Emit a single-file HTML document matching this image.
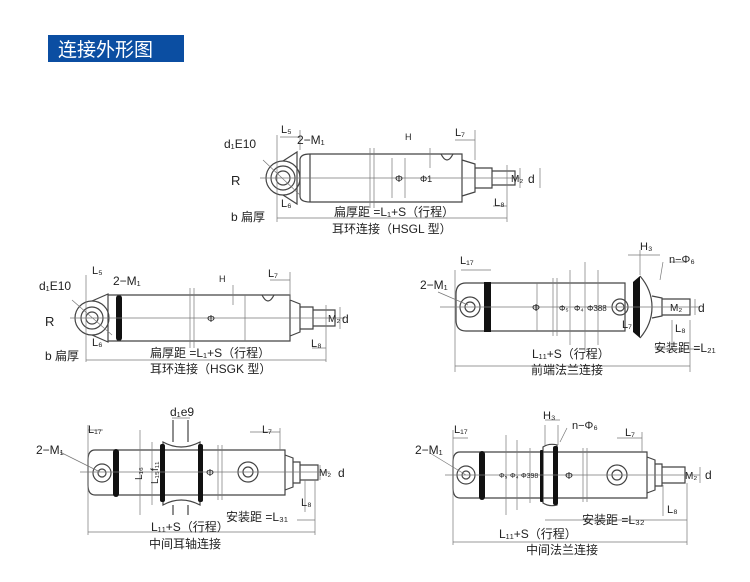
<!DOCTYPE html>
<html><head><meta charset="utf-8"><style>
html,body{margin:0;padding:0;background:#fff;width:750px;height:582px;overflow:hidden}
svg{display:block}
text{font-family:"Liberation Sans","Noto Sans CJK SC",sans-serif;fill:#222}
.l{stroke:#444;stroke-width:1.2;fill:none}
.t{stroke:#777;stroke-width:.7;fill:none}
.b{fill:#111}
</style></head><body>
<svg width="750" height="582" viewBox="0 0 750 582">
<rect x="48" y="35" width="136" height="27" fill="#0b4ea2"/>
<text x="58" y="56" font-size="19" style="fill:#fff">连接外形图</text>

<!-- Diagram 1 HSGL -->
<g>
<circle class="l" cx="283" cy="178" r="17"/><circle class="l" cx="283" cy="178" r="12"/><circle class="l" cx="283" cy="178" r="7"/>
<path class="l" d="M283 161 L297 152 L297 204 L283 195"/>
<path class="l" d="M310 154 Q300 154 300 160 L300 196 Q300 202 310 202"/>
<path class="l" d="M310 154 L462 154 L462 202 L310 202 M310 154 L310 202"/>
<path class="l" d="M462 160 L475 164 L475 192 L462 196 M475 168 L492 168 L492 188 L475 188 M492 171 L515 171 L515 185 L492 185"/>
<path class="l" d="M441 154 Q447 166 453 154"/>
<path class="t" d="M370 148 L370 208 M374 148 L374 208 M260 178 L520 178 M277 135 L277 222 M277 218 L507 218 M507 165 L507 222 M493 206 L507 206 M455 140 L475 140 M475 130 L475 160 M520 168 L520 188 M540 168 L540 188 M430 148 L430 168 M392 158 L392 198 M405 158 L405 198 M263 160 L300 195 M280 137 L300 137 M300 130 L300 150"/>
<text x="224" y="148" font-size="12">d₁E10</text>
<text x="231" y="185" font-size="13">R</text>
<text x="231" y="221" font-size="12">b 扁厚</text>
<text x="281" y="133" font-size="11">L₅</text>
<text x="297" y="144" font-size="12">2−M₁</text>
<text x="281" y="207" font-size="11">L₆</text>
<text x="405" y="140" font-size="9">H</text>
<text x="455" y="136" font-size="11">L₇</text>
<text x="395" y="182" font-size="10">Φ</text>
<text x="420" y="182" font-size="9">Φ1</text>
<text x="511" y="182" font-size="10">M₂</text>
<text x="528" y="183" font-size="12">d</text>
<text x="494" y="206" font-size="11">L₈</text>
<text x="334" y="216" font-size="12">扁厚距 =L₁+S（行程）</text>
<text x="332" y="233" font-size="12">耳环连接（HSGL 型）</text>
</g>

<!-- Diagram 2 HSGK -->
<g>
<circle class="l" cx="92" cy="318" r="17"/><circle class="l" cx="92" cy="318" r="11"/><circle class="l" cx="92" cy="318" r="6"/>
<path class="l" d="M92 301 L108 294 L108 342 L92 335"/>
<rect class="b" x="116" y="295" width="6" height="46" rx="3"/>
<path class="l" d="M108 295 L290 295 L290 341 L108 341 M290 300 L300 304 L300 332 L290 336 M300 307 L313 307 L313 329 L300 329 M313 310 L335 310 L335 326 L313 326"/>
<path class="l" d="M262 295 Q268 307 274 295"/>
<path class="t" d="M190 288 L190 348 M194 288 L194 348 M70 318 L345 318 M86 275 L86 362 M86 360 L326 360 M326 305 L326 362 M312 348 L326 348 M270 280 L290 280 M290 272 L290 300 M340 307 L340 329 M233 285 L233 305 M245 295 L245 341 M72 300 L112 335"/>
<text x="39" y="290" font-size="12">d₁E10</text>
<text x="45" y="326" font-size="13">R</text>
<text x="45" y="360" font-size="12">b 扁厚</text>
<text x="92" y="274" font-size="11">L₅</text>
<text x="113" y="285" font-size="12">2−M₁</text>
<text x="92" y="346" font-size="11">L₆</text>
<text x="219" y="282" font-size="9">H</text>
<text x="268" y="277" font-size="11">L₇</text>
<text x="207" y="322" font-size="10">Φ</text>
<text x="328" y="322" font-size="10">M₂</text>
<text x="342" y="323" font-size="12">d</text>
<text x="311" y="347" font-size="11">L₈</text>
<text x="150" y="357" font-size="12">扁厚距 =L₁+S（行程）</text>
<text x="150" y="373" font-size="12">耳环连接（HSGK 型）</text>
</g>

<!-- Diagram 3 front flange -->
<g>
<path class="l" d="M466 283 L625 283 L625 331 L466 331 Q456 331 456 320 L456 294 Q456 283 466 283"/>
<circle class="l" cx="470" cy="307" r="10"/><circle class="l" cx="470" cy="307" r="5"/>
<rect class="b" x="484" y="282" width="7" height="50"/>
<path class="b" d="M633 282 L640 276 L640 338 L633 332 Z"/>
<path class="l" d="M640 276 Q652 290 652 307 Q652 324 640 338 M652 296 L662 298 L662 316 L652 318 M662 299 L690 299 L690 315 L662 315"/>
<circle class="l" cx="620" cy="307" r="8"/><circle class="l" cx="620" cy="307" r="4"/>
<path class="t" d="M553 278 L553 336 M557 278 L557 336 M440 307 L700 307 M455 270 L455 372 M455 366 L690 366 M690 320 L690 372 M655 349 L700 349 M537 283 L537 331 M570 270 L570 345 M585 262 L585 352 M598 270 L598 345 M628 255 L660 255 M640 250 L640 275 M663 262 L660 280 M670 262 L685 262 M695 299 L695 315 M672 320 L672 348 M461 270 L491 270 M438 292 L468 305"/>
<text x="460" y="264" font-size="11">L₁₇</text>
<text x="420" y="289" font-size="12">2−M₁</text>
<text x="532" y="311" font-size="10">Φ</text>
<text x="559" y="311" font-size="8">Φ₅</text>
<text x="574" y="311" font-size="8">Φ₄</text>
<text x="587" y="311" font-size="8">Φ388</text>
<text x="640" y="250" font-size="11">H₃</text>
<text x="669" y="263" font-size="11">n−Φ₆</text>
<text x="622" y="328" font-size="11">L₇</text>
<text x="670" y="311" font-size="10">M₂</text>
<text x="698" y="312" font-size="12">d</text>
<text x="675" y="332" font-size="11">L₈</text>
<text x="654" y="352" font-size="12">安装距 =L₂₁</text>
<text x="532" y="358" font-size="12">L₁₁+S（行程）</text>
<text x="531" y="374" font-size="12">前端法兰连接</text>
</g>

<!-- Diagram 4 mid trunnion -->
<g>
<path class="l" d="M95 450 L285 450 L285 495 L95 495 Q88 495 88 485 L88 460 Q88 450 95 450"/>
<circle class="l" cx="102" cy="473" r="9"/><circle class="l" cx="102" cy="473" r="4"/>
<rect class="b" x="113" y="449" width="6" height="48" rx="3"/>
<path class="l" d="M163 442 Q181 452 200 442 L200 505 Q181 495 163 505 Z M173 420 L173 442 M188 420 L188 442 M173 505 L173 515 M188 505 L188 515"/>
<rect class="b" x="160" y="444" width="5" height="58" rx="2"/>
<rect class="b" x="198" y="444" width="5" height="58" rx="2"/>
<circle class="l" cx="248" cy="472" r="10"/><circle class="l" cx="248" cy="472" r="5"/>
<path class="l" d="M285 455 L293 458 L293 487 L285 490 M293 462 L300 462 L300 483 L293 483 M300 465 L318 465 L318 480 L300 480"/>
<path class="t" d="M218 445 L218 500 M222 445 L222 500 M80 472 L330 472 M88 425 L88 535 M88 532 L315 532 M315 480 L315 535 M297 520 L315 520 M140 430 L140 515 M152 442 L152 505 M250 432 L280 432 M280 428 L280 450 M320 465 L320 480 M305 480 L305 512 M172 418 L190 418 M88 430 L103 430 M60 452 L100 472"/>
<text x="88" y="433" font-size="11">L₁₇</text>
<text x="36" y="454" font-size="12">2−M₁</text>
<text x="170" y="416" font-size="12">d₁e9</text>
<text x="128" y="478" font-size="10" transform="rotate(-90 136 472)">L₁₆</text>
<text x="138" y="480" font-size="10" transform="rotate(-90 150 472)">L₁₅f₁₁</text>
<text x="206" y="476" font-size="10">Φ</text>
<text x="262" y="433" font-size="11">L₇</text>
<text x="319" y="476" font-size="10">M₂</text>
<text x="338" y="477" font-size="12">d</text>
<text x="301" y="506" font-size="11">L₈</text>
<text x="226" y="521" font-size="12">安装距 =L₃₁</text>
<text x="151" y="531" font-size="12">L₁₁+S（行程）</text>
<text x="149" y="548" font-size="12">中间耳轴连接</text>
</g>

<!-- Diagram 5 mid flange -->
<g>
<path class="l" d="M460 452 L647 452 L647 498 L460 498 Q453 498 453 488 L453 462 Q453 452 460 452"/>
<circle class="l" cx="466" cy="475" r="9"/><circle class="l" cx="466" cy="475" r="4"/>
<rect class="b" x="479" y="451" width="6" height="49" rx="3"/>
<path class="l" d="M543 447 Q549 443 557 445 L557 505 Q549 507 543 503 Z"/>
<rect class="b" x="540" y="450" width="3" height="52" rx="1"/>
<rect class="b" x="553" y="446" width="5" height="59" rx="2"/>
<circle class="l" cx="617" cy="475" r="10"/><circle class="l" cx="617" cy="475" r="5"/>
<path class="l" d="M647 457 L655 460 L655 490 L647 493 M655 464 L662 464 L662 486 L655 486 M662 467 L685 467 L685 483 L662 483"/>
<path class="t" d="M583 448 L583 502 M587 448 L587 502 M445 475 L700 475 M453 430 L453 545 M453 542 L687 542 M687 483 L687 545 M545 520 L687 520 M506 435 L506 515 M517 440 L517 510 M530 448 L530 503 M545 420 L560 420 M545 425 L545 445 M558 425 L558 445 M567 428 L560 442 M617 438 L642 438 M642 432 L642 452 M700 467 L700 483 M663 485 L663 516 M453 438 L468 438 M430 453 L466 475"/>
<text x="454" y="433" font-size="11">L₁₇</text>
<text x="415" y="454" font-size="12">2−M₁</text>
<text x="543" y="419" font-size="11">H₃</text>
<text x="572" y="429" font-size="11">n−Φ₆</text>
<text x="499" y="478" font-size="7">Φ₅</text>
<text x="510" y="478" font-size="7">Φ₄</text>
<text x="521" y="478" font-size="7">Φ398</text>
<text x="565" y="479" font-size="10">Φ</text>
<text x="625" y="436" font-size="11">L₇</text>
<text x="685" y="479" font-size="10">M₂</text>
<text x="705" y="479" font-size="12">d</text>
<text x="667" y="513" font-size="11">L₈</text>
<text x="582" y="524" font-size="12">安装距 =L₃₂</text>
<text x="499" y="538" font-size="12">L₁₁+S（行程）</text>
<text x="526" y="554" font-size="12">中间法兰连接</text>
</g>
</svg>
</body></html>
